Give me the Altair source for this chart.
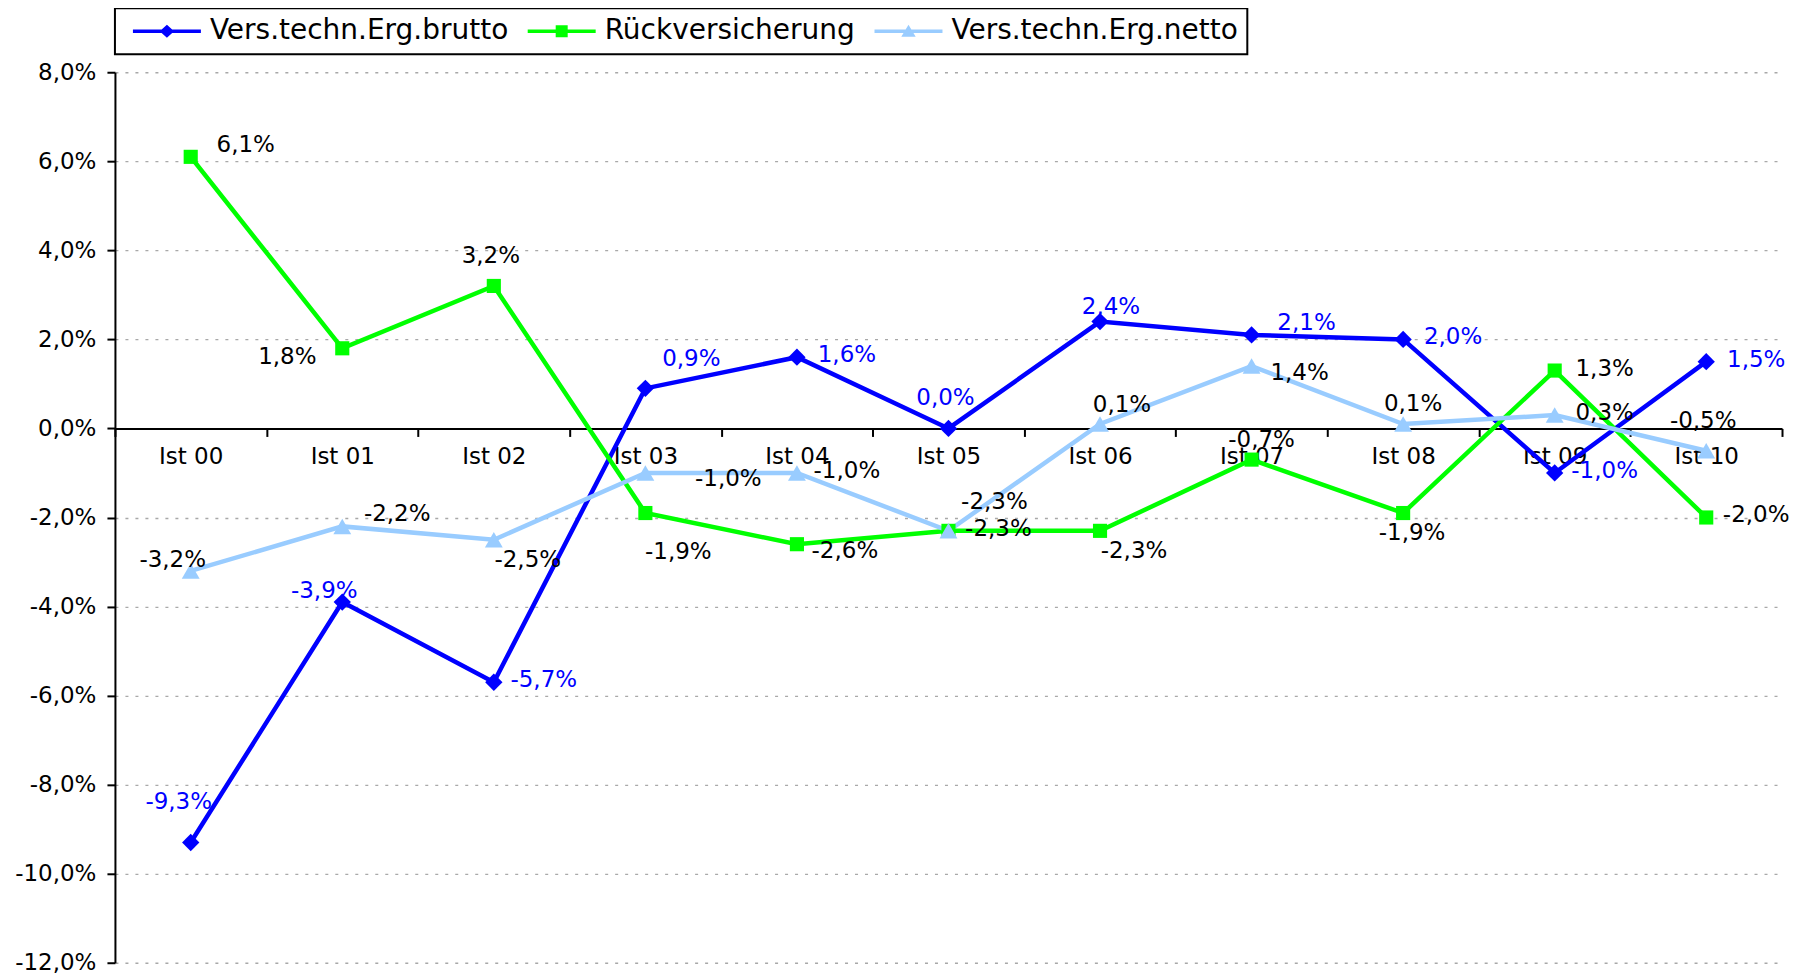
import altair as alt
import pandas as pd

# ---------------- data ----------------
categories = ["Ist 00", "Ist 01", "Ist 02", "Ist 03", "Ist 04", "Ist 05",
              "Ist 06", "Ist 07", "Ist 08", "Ist 09", "Ist 10"]
series_names = ["Vers.techn.Erg.brutto", "Rückversicherung", "Vers.techn.Erg.netto"]

brutto = [-9.3, -3.9, -5.7, 0.9, 1.6, 0.0, 2.4, 2.1, 2.0, -1.0, 1.5]
rueck = [6.1, 1.8, 3.2, -1.9, -2.6, -2.3, -2.3, -0.7, -1.9, 1.3, -2.0]
netto = [-3.2, -2.2, -2.5, -1.0, -1.0, -2.3, 0.1, 1.4, 0.1, 0.3, -0.5]

# label placement (like Excel's per-label position setting)
brutto_label_pos = ["AL", "LU", "R", "AR", "R", "A", "A4", "RU", "R", "R", "R"]
rueck_label_pos = ["RU", "L", "A", "BB", "RD", "R", "BR", "A2", "B", "R", "R"]
netto_label_pos = ["LU", "RU", "BR", "RR", "R", "AR", "A3", "RD", "A2", "R", "A"]

y_ticks = [-12, -10, -8, -6, -4, -2, 0, 2, 4, 6, 8]

# ---------------- styles ----------------
FONT = "DejaVu Sans"
FS = 23
colors = ["#0000FF", "#00FF00", "#99CCFF"]
label_colors = {"Vers.techn.Erg.brutto": "#0000FF"}
point_shapes = ["diamond", "square", "triangle-up"]
point_sizes = [300, 200, 320]

# legend symbols: horizontal line + marker (custom paths, unit r = 12px)
legend_paths = [
    "M-0.417,-0.15H5.25V0.15H-0.417Z M1.817,0L2.417,-0.55L3.017,0L2.417,0.55Z",
    "M-0.417,-0.15H5.25V0.15H-0.417Z M1.917,-0.5H2.917V0.5H1.917Z",
    "M-0.417,-0.15H5.25V0.15H-0.417Z M1.817,0.45L2.417,-0.55L3.017,0.45Z",
]

offsets = {
    "R": (50, -2), "RU": (55, -12), "RD": (48, 7), "RR": (83, 6),
    "A": (-3, -30), "A2": (10, -20), "A3": (22, -19), "A4": (11, -15),
    "AR": (46, -29), "AL": (-12, -41), "LU": (-18, -11), "L": (-55, 9),
    "B": (9, 20), "BR": (34, 20), "BB": (33, 39),
}


def fmt(v):
    s = f"{abs(v):.1f}".replace(".", ",") + "%"
    return ("-" if v < 0 else "") + s


rows = []
for name, vals, poss in zip(series_names, [brutto, rueck, netto],
                            [brutto_label_pos, rueck_label_pos, netto_label_pos]):
    for c, v, p in zip(categories, vals, poss):
        rows.append({"cat": c, "series": name, "value": v, "label": fmt(v), "pos": p})
df = pd.DataFrame(rows)

W, H = 1668, 891
y_domain = [-12, 8]
zero_offset = -(H - H * (y_domain[1] - 0) / (y_domain[1] - y_domain[0]))

color_scale = alt.Scale(domain=series_names, range=colors)

x_enc = alt.X(
    "cat:N",
    sort=categories,
    bandPosition=0.5,
    scale=alt.Scale(type="band", domain=categories, paddingInner=0, paddingOuter=0),
    axis=alt.Axis(
        title=None, orient="bottom", offset=zero_offset, tickBand="extent",
        domainColor="black", domainWidth=2, tickColor="black", tickWidth=2,
        tickSize=8, labelPadding=9, labelFont=FONT, labelFontSize=FS,
        labelColor="black", grid=False, labelAngle=0,
    ),
)
y_enc = alt.Y(
    "value:Q",
    scale=alt.Scale(domain=y_domain, nice=False, zero=False),
    axis=alt.Axis(
        title=None, values=y_ticks,
        labelExpr="(datum.value < 0 ? '-' : '') + replace(format(abs(datum.value), '.1f'), '.', ',') + '%'",
        domainColor="black", domainWidth=2, tickColor="black", tickWidth=2,
        tickSize=8, labelPadding=11, labelFont=FONT, labelFontSize=FS,
        labelColor="black", grid=True, gridColor="#a8a8a8", gridDash=[3, 7],
        gridWidth=1.3,
    ),
)

legend_def = alt.Legend(
    title=None, orient="none", legendX=0, legendY=-64, direction="horizontal",
    columns=3, symbolSize=576, symbolStrokeWidth=0, labelOffset=58,
    columnPadding=10, labelFont=FONT, labelFontSize=28, labelColor="black",
    labelLimit=600, padding=9, strokeColor="black", fillColor="white",
)

base = alt.Chart(df)

# legend-only layer (no marks drawn), placed first so its legend settings win
legend_layer = base.transform_filter("false").mark_point(filled=True, opacity=1).encode(
    x=x_enc, y=y_enc,
    color=alt.Color("series:N", scale=color_scale, legend=legend_def),
    shape=alt.Shape("series:N", scale=alt.Scale(domain=series_names, range=legend_paths),
                    legend=legend_def),
)

lines = base.mark_line(strokeWidth=4.5).encode(
    x=x_enc, y=y_enc,
    color=alt.Color("series:N", scale=color_scale, legend=None),
)

point_layers = []
for name, shp, sz in zip(series_names, point_shapes, point_sizes):
    point_layers.append(
        base.transform_filter(alt.datum.series == name)
        .mark_point(filled=True, shape=shp, size=sz, opacity=1)
        .encode(x=x_enc, y=y_enc,
                color=alt.Color("series:N", scale=color_scale, legend=None))
    )

text_layers = []
for key, (dx, dy) in offsets.items():
    text_layers.append(
        base.transform_filter(alt.datum.pos == key)
        .mark_text(dx=dx, dy=dy, font=FONT, fontSize=FS, align="center", baseline="middle")
        .encode(
            x=x_enc, y=y_enc, text="label:N",
            color=alt.condition(alt.datum.series == series_names[0],
                                alt.value(label_colors[series_names[0]]), alt.value("black")),
        )
    )

chart = alt.layer(legend_layer, lines, *point_layers, *text_layers).properties(
    width=W, height=H,
    background="white",
    autosize=alt.AutoSizeParams(type="none"),
    padding={"left": 107, "top": 64, "right": 12, "bottom": 14},
).configure_view(stroke=None).configure_legend(strokeWidth=2)

chart.save("out.html", embed_options={"renderer": "svg", "actions": False})
